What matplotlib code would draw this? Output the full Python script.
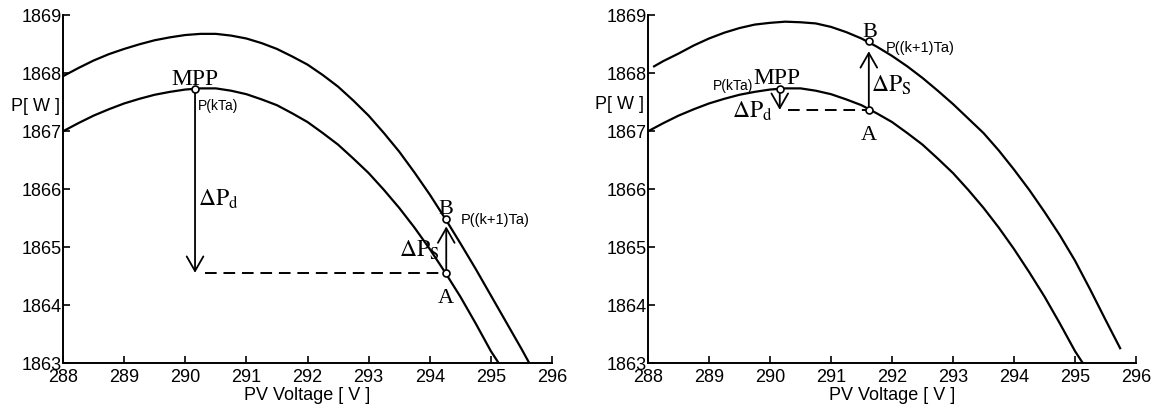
import matplotlib
matplotlib.use("Agg")
import matplotlib.pyplot as plt

plt.rcParams['font.family'] = ['Liberation Sans', 'DejaVu Sans']
plt.rcParams['mathtext.fontset'] = 'stix'

# ---------------- data ----------------
v_lower = [288.00, 288.25, 288.50, 288.75, 289.00, 289.25, 289.50, 289.75,
           290.00, 290.25, 290.50, 290.75, 291.00, 291.25, 291.50, 291.75,
           292.00, 292.25, 292.50, 292.75, 293.00, 293.25, 293.50, 293.75,
           294.00, 294.25, 294.50, 294.75, 295.00, 295.13]
p_lower = [1867.00, 1867.14, 1867.27, 1867.38, 1867.48, 1867.56, 1867.63,
           1867.68, 1867.72, 1867.74, 1867.74, 1867.70, 1867.64, 1867.55,
           1867.45, 1867.31, 1867.16, 1866.97, 1866.77, 1866.53, 1866.28,
           1865.99, 1865.68, 1865.34, 1864.97, 1864.57, 1864.15, 1863.69,
           1863.21, 1863.00]

v_upper_left = [288.00, 288.25, 288.50, 288.75, 289.00, 289.25, 289.50, 289.75,
                290.00, 290.25, 290.50, 290.75, 291.00, 291.25, 291.50, 291.75,
                292.00, 292.25, 292.50, 292.75, 293.00, 293.25, 293.50, 293.75,
                294.00, 294.25, 294.50, 294.75, 295.00, 295.25, 295.50, 295.63]
p_upper_left = [1867.95, 1868.09, 1868.22, 1868.33, 1868.42, 1868.50, 1868.57,
                1868.62, 1868.66, 1868.68, 1868.68, 1868.65, 1868.60, 1868.52,
                1868.42, 1868.29, 1868.15, 1867.97, 1867.77, 1867.53, 1867.27,
                1866.97, 1866.65, 1866.29, 1865.91, 1865.50, 1865.07, 1864.63,
                1864.17, 1863.71, 1863.25, 1863.00]

v_upper_right = [288.10, 288.25, 288.50, 288.75, 289.00, 289.25, 289.50, 289.75,
                 290.00, 290.25, 290.50, 290.75, 291.00, 291.25, 291.50, 291.75,
                 292.00, 292.25, 292.50, 292.75, 293.00, 293.25, 293.50, 293.75,
                 294.00, 294.25, 294.50, 294.75, 295.00, 295.25, 295.50, 295.74]
p_upper_right = [1868.12, 1868.21, 1868.34, 1868.48, 1868.60, 1868.70, 1868.78,
                 1868.84, 1868.87, 1868.89, 1868.88, 1868.86, 1868.80, 1868.71,
                 1868.60, 1868.46, 1868.30, 1868.12, 1867.92, 1867.70, 1867.47,
                 1867.22, 1866.97, 1866.67, 1866.34, 1865.99, 1865.61, 1865.21,
                 1864.77, 1864.27, 1863.75, 1863.26]

# operating points: MPP, A, B for each panel
mpp = (290.16, 1867.73)
left_A = (294.27, 1864.56)
left_B = (294.26, 1865.48)
right_A = (291.62, 1867.37)
right_B = (291.63, 1868.56)

x_ticks = [288, 289, 290, 291, 292, 293, 294, 295, 296]
y_ticks = [1863, 1864, 1865, 1866, 1867, 1868, 1869]

# ---------------- figure ----------------
fig = plt.figure(figsize=(11.57, 4.08), dpi=100)
ax1 = fig.add_axes([63/1157, 1-363.3/408, 489/1157, 348/408])
ax2 = fig.add_axes([648/1157, 1-363.3/408, 488/1157, 348/408])

SERIF = ['Liberation Serif', 'DejaVu Serif']
head = "->,head_length=1.05,head_width=0.6"


def style(ax, ylab_x, ylab_y):
    ax.set_xlim(288, 296)
    ax.set_ylim(1863, 1869)
    ax.set_xticks(x_ticks)
    ax.set_yticks(y_ticks)
    for s in ['top', 'right']:
        ax.spines[s].set_visible(False)
    for s in ['left', 'bottom']:
        ax.spines[s].set_linewidth(1.4)
    ax.tick_params(axis='both', direction='in', length=5, width=1.2,
                   labelsize=13)
    ax.tick_params(axis='y', pad=1)
    ax.tick_params(axis='x', pad=4)
    ax.set_xlabel('PV Voltage [ V ]', fontsize=13, labelpad=1)
    ax.set_ylabel('P[ W ]', fontsize=13, rotation=0, va='center', ha='center')
    ax.yaxis.set_label_coords(ylab_x, ylab_y)


def marker(ax, pt):
    ax.plot([pt[0]], [pt[1]], 'o', ms=5, mfc='white', mec='black',
            mew=1.2, zorder=5)


def arrow(ax, start, end):
    ax.annotate('', xy=end, xytext=start,
                arrowprops=dict(arrowstyle=head, lw=1.3, color='black',
                                shrinkA=0, shrinkB=0), zorder=4)


# ---------- left panel ----------
ax = ax1
style(ax, -0.057, 0.738)
ax.plot(v_upper_left, p_upper_left, color='black', lw=1.6)
ax.plot(v_lower, p_lower, color='black', lw=1.6)
ax.plot([290.32, left_A[0]], [left_A[1], left_A[1]], color='black', lw=1.4,
        dashes=(6, 3.5))
arrow(ax, (mpp[0], mpp[1]), (mpp[0], left_A[1]))
arrow(ax, left_A, (left_A[0], 1865.36))
marker(ax, mpp)
marker(ax, left_A)
marker(ax, left_B)
ax.text(mpp[0], 1867.80, 'MPP', family=SERIF, fontsize=17, ha='center',
        va='baseline')
ax.text(290.21, 1867.44, 'P(kTa)', fontsize=10, ha='left', va='center')
ax.text(290.21, 1865.72, r'$\Delta\mathrm{P}_\mathrm{d}$', fontsize=17,
        ha='left', va='baseline')
ax.text(293.50, 1864.83, r'$\Delta\mathrm{P}_\mathrm{S}$', fontsize=17,
        ha='left', va='baseline')
ax.text(left_B[0], 1865.58, 'B', family=SERIF, fontsize=16, ha='center',
        va='baseline')
ax.text(left_A[0], 1864.04, 'A', family=SERIF, fontsize=16, ha='center',
        va='baseline')
ax.text(294.50, 1865.47, 'P((k+1)Ta)', fontsize=10.5, ha='left', va='center')

# ---------- right panel ----------
ax = ax2
style(ax, -0.059, 0.743)
ax.plot(v_upper_right, p_upper_right, color='black', lw=1.6)
ax.plot(v_lower, p_lower, color='black', lw=1.6)
ax.plot([290.30, right_A[0]], [right_A[1], right_A[1]], color='black', lw=1.4,
        dashes=(6, 3.5))
arrow(ax, (mpp[0], mpp[1]), (mpp[0], 1867.37))
arrow(ax, right_A, (right_A[0], 1868.38))
marker(ax, mpp)
marker(ax, right_A)
marker(ax, right_B)
ax.text(290.12, 1867.81, 'MPP', family=SERIF, fontsize=17, ha='center',
        va='baseline')
ax.text(289.73, 1867.78, 'P(kTa)', fontsize=10, ha='right', va='center')
ax.text(289.37, 1867.23, r'$\Delta\mathrm{P}_\mathrm{d}$', fontsize=17,
        ha='left', va='baseline')
ax.text(291.66, 1867.69, r'$\Delta\mathrm{P}_\mathrm{S}$', fontsize=17,
        ha='left', va='baseline')
ax.text(right_B[0], 1868.62, 'B', family=SERIF, fontsize=16, ha='center',
        va='baseline')
ax.text(right_A[0], 1866.85, 'A', family=SERIF, fontsize=16, ha='center',
        va='baseline')
ax.text(291.89, 1868.44, 'P((k+1)Ta)', fontsize=10.5, ha='left', va='center')

fig.savefig('out.png', dpi=100, facecolor='white')
